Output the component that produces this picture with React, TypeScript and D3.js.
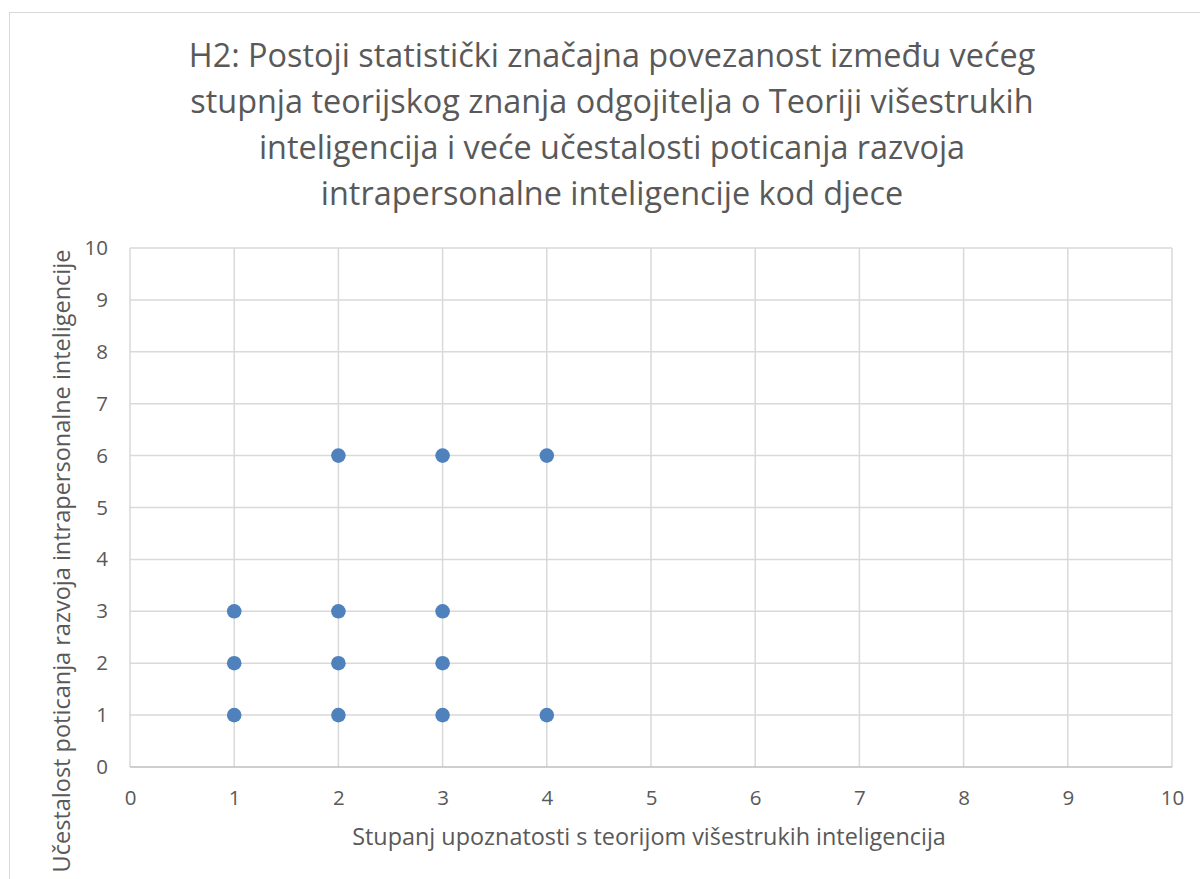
import * as d3 from 'd3';
import { useEffect, useRef } from 'react';

const TITLE_LINES = [
    'H2: Postoji statistički značajna povezanost između većeg',
    'stupnja teorijskog znanja odgojitelja o Teoriji višestrukih',
    'inteligencija i veće učestalosti poticanja razvoja',
    'intrapersonalne inteligencije kod djece',
];
const X_TITLE = 'Stupanj upoznatosti s teorijom višestrukih inteligencija';
const Y_TITLE = 'Učestalost poticanja razvoja intrapersonalne inteligencije';

// knowledge level (x) and frequency (y), one entry per respondent point
const KNOWLEDGE = [1, 1, 1, 2, 2, 2, 2, 3, 3, 3, 3, 4, 4];
const FREQUENCY = [1, 2, 3, 1, 2, 3, 6, 1, 2, 3, 6, 1, 6];
const TICKS = [0, 1, 2, 3, 4, 5, 6, 7, 8, 9, 10];

const W = 1200;
const H = 879;
const FONT = '"Open Sans", Lato, sans-serif';

export default function App() {
    const svgRef = useRef<SVGSVGElement | null>(null);

    useEffect(() => {
        if (!svgRef.current) {
            return;
        }
        const svg = d3.select(svgRef.current);
        svg.selectAll('*').remove();

        const margin = { top: 248, right: 28, bottom: 112, left: 130 };
        const x = d3.scaleLinear().domain([0, 10]).range([margin.left, W - margin.right]);
        const y = d3.scaleLinear().domain([0, 10]).range([H - margin.bottom, margin.top]);

        svg.append('rect')
            .attr('x', 0)
            .attr('y', 0)
            .attr('width', W)
            .attr('height', H)
            .attr('fill', '#fff');

        // chart frame
        svg.append('rect')
            .attr('x', 9.5)
            .attr('y', 12.5)
            .attr('width', W + 20)
            .attr('height', H + 20)
            .attr('fill', 'none')
            .attr('stroke', '#d9d9d9')
            .attr('stroke-width', 1);

        const title = svg.append('text')
            .attr('text-anchor', 'middle')
            .attr('font-family', FONT)
            .attr('font-size', 32.4)
            .attr('fill', '#595959');
        TITLE_LINES.forEach((line, i) => {
            title.append('tspan')
                .attr('x', 612)
                .attr('y', 67 + i * 46)
                .text(line);
        });

        const grid = svg.append('g').attr('stroke', '#d9d9d9').attr('stroke-width', 1.5);
        TICKS.forEach((t) => {
            grid.append('line')
                .attr('x1', x(t))
                .attr('x2', x(t))
                .attr('y1', y(0))
                .attr('y2', y(10));
            if (t > 0) {
                grid.append('line')
                    .attr('x1', x(0))
                    .attr('x2', x(10))
                    .attr('y1', y(t))
                    .attr('y2', y(t));
            }
        });
        svg.append('line')
            .attr('x1', x(0))
            .attr('x2', x(10))
            .attr('y1', y(0))
            .attr('y2', y(0))
            .attr('stroke', '#bfbfbf')
            .attr('stroke-width', 1.5);

        const xAxis = svg.append('g')
            .attr('transform', `translate(0,${y(0)})`)
            .call(d3.axisBottom(x).tickValues(TICKS).tickSize(0).tickPadding(23));
        const yAxis = svg.append('g')
            .attr('transform', `translate(${x(0) - 22},0)`)
            .call(d3.axisLeft(y).tickValues(TICKS).tickSize(0).tickPadding(0));
        [xAxis, yAxis].forEach((a) => {
            a.select('.domain').remove();
            a.selectAll('text')
                .attr('font-family', FONT)
                .attr('font-size', 20.5)
                .attr('fill', '#595959');
        });

        svg.append('g')
            .selectAll('circle')
            .data(KNOWLEDGE.map((k, i) => ({ k, f: FREQUENCY[i] })))
            .join('circle')
            .attr('cx', (d) => x(d.k))
            .attr('cy', (d) => y(d.f))
            .attr('r', 7.3)
            .attr('fill', '#4f81bd');

        svg.append('text')
            .attr('x', (x(0) + x(10)) / 2 - 2)
            .attr('y', 845)
            .attr('text-anchor', 'middle')
            .attr('font-family', FONT)
            .attr('font-size', 23.4)
            .attr('fill', '#595959')
            .text(X_TITLE);

        svg.append('text')
            .attr('transform', `translate(70,561) rotate(-90)`)
            .attr('text-anchor', 'middle')
            .attr('font-family', FONT)
            .attr('font-size', 23.5)
            .attr('fill', '#595959')
            .text(Y_TITLE);
    }, []);

    return (
        <svg
            ref={svgRef}
            width={W}
            height={H}
            style={{ position: 'absolute', left: 0, top: 0, display: 'block' }}
        />
    );
}
